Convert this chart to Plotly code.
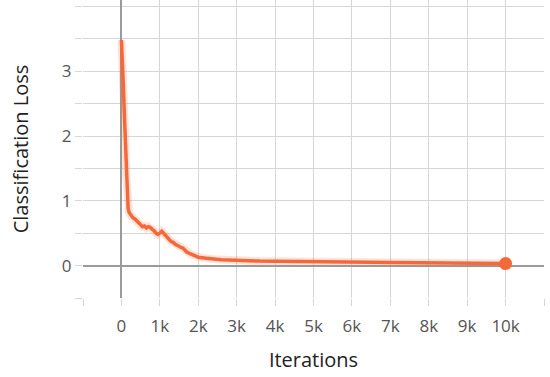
import plotly.graph_objects as go

# smoothed training loss
iterations = [0, 25, 50, 75, 100, 125, 150, 175, 200, 250, 300, 350, 400, 450,
              500, 550, 600, 650, 700, 750, 800, 850, 900, 950, 1000, 1050,
              1100, 1150, 1200, 1250, 1300, 1350, 1400, 1450, 1500, 1550, 1600,
              1650, 1700, 1800, 1900, 2000, 2200, 2400, 2600, 2800, 3000, 3300,
              3600, 4000, 4500, 5000, 5500, 6000, 6500, 7000, 7500, 8000, 8500,
              9000, 9500, 10000]
loss = [3.48, 3.2, 2.8, 2.35, 1.9, 1.4, 1.05, 0.88, 0.82, 0.77, 0.74, 0.72,
        0.69, 0.65, 0.62, 0.6, 0.61, 0.58, 0.6, 0.59, 0.56, 0.54, 0.5, 0.48,
        0.5, 0.53, 0.5, 0.46, 0.42, 0.4, 0.37, 0.36, 0.33, 0.32, 0.3, 0.28,
        0.27, 0.24, 0.21, 0.18, 0.15, 0.13, 0.115, 0.1, 0.09, 0.085, 0.08,
        0.075, 0.07, 0.068, 0.062, 0.057, 0.055, 0.052, 0.05, 0.048, 0.045,
        0.042, 0.04, 0.037, 0.035, 0.032]

x_ticks = list(range(-1000, 11001, 1000))
x_labels = [""] + ["0"] + [f"{k}k" for k in range(1, 11)] + [""]
y_ticks = [-0.5, 0, 0.5, 1, 1.5, 2, 2.5, 3, 3.5, 4]
y_labels = ["", "0", "", "1", "", "2", "", "3", "", ""]

ORANGE = "#f5683a"
FONT = "Open Sans"

fig = go.Figure()

# faint raw band behind the smoothed line
fig.add_trace(go.Scatter(
    x=iterations, y=loss, mode="lines",
    line=dict(color="rgba(245, 104, 58, 0.18)", width=8),
    hoverinfo="skip", showlegend=False
))

fig.add_trace(go.Scatter(
    x=iterations, y=loss, mode="lines",
    line=dict(color=ORANGE, width=3.5),
    showlegend=False
))

# last point marker
fig.add_trace(go.Scatter(
    x=[iterations[-1]], y=[loss[-1]], mode="markers",
    marker=dict(color=ORANGE, size=13),
    showlegend=False
))

axis_common = dict(
    showgrid=True, gridcolor="#d6d6d6", gridwidth=1,
    zeroline=True, zerolinecolor="#9a9a9a", zerolinewidth=2,
    ticks="outside", ticklen=7, tickcolor="#d6d6d6",
    tickfont=dict(family=FONT, size=17, color="#555555"),
    showline=False, automargin=False,
)

fig.update_xaxes(
    range=[-1000, 11000], tickvals=x_ticks, ticktext=x_labels,
    ticklabelstandoff=6,
    title=dict(text="Iterations", font=dict(family=FONT, size=20, color="#222222"),
               standoff=16),
    **axis_common
)
fig.update_yaxes(
    range=[-0.5, 4.1], tickvals=y_ticks, ticktext=y_labels,
    ticklabelstandoff=0,
    title=dict(text="Classification Loss", font=dict(family=FONT, size=20, color="#222222"),
               standoff=27),
    **axis_common
)

fig.update_layout(
    width=550, height=377,
    margin=dict(l=83, r=6, t=0, b=79),
    plot_bgcolor="white", paper_bgcolor="white",
    font=dict(family=FONT),
)

# page has a default body margin; drop it so the figure fills the window
fig.write_html("out.html", config={"displayModeBar": False},
               post_script="document.body.style.margin='0';")
